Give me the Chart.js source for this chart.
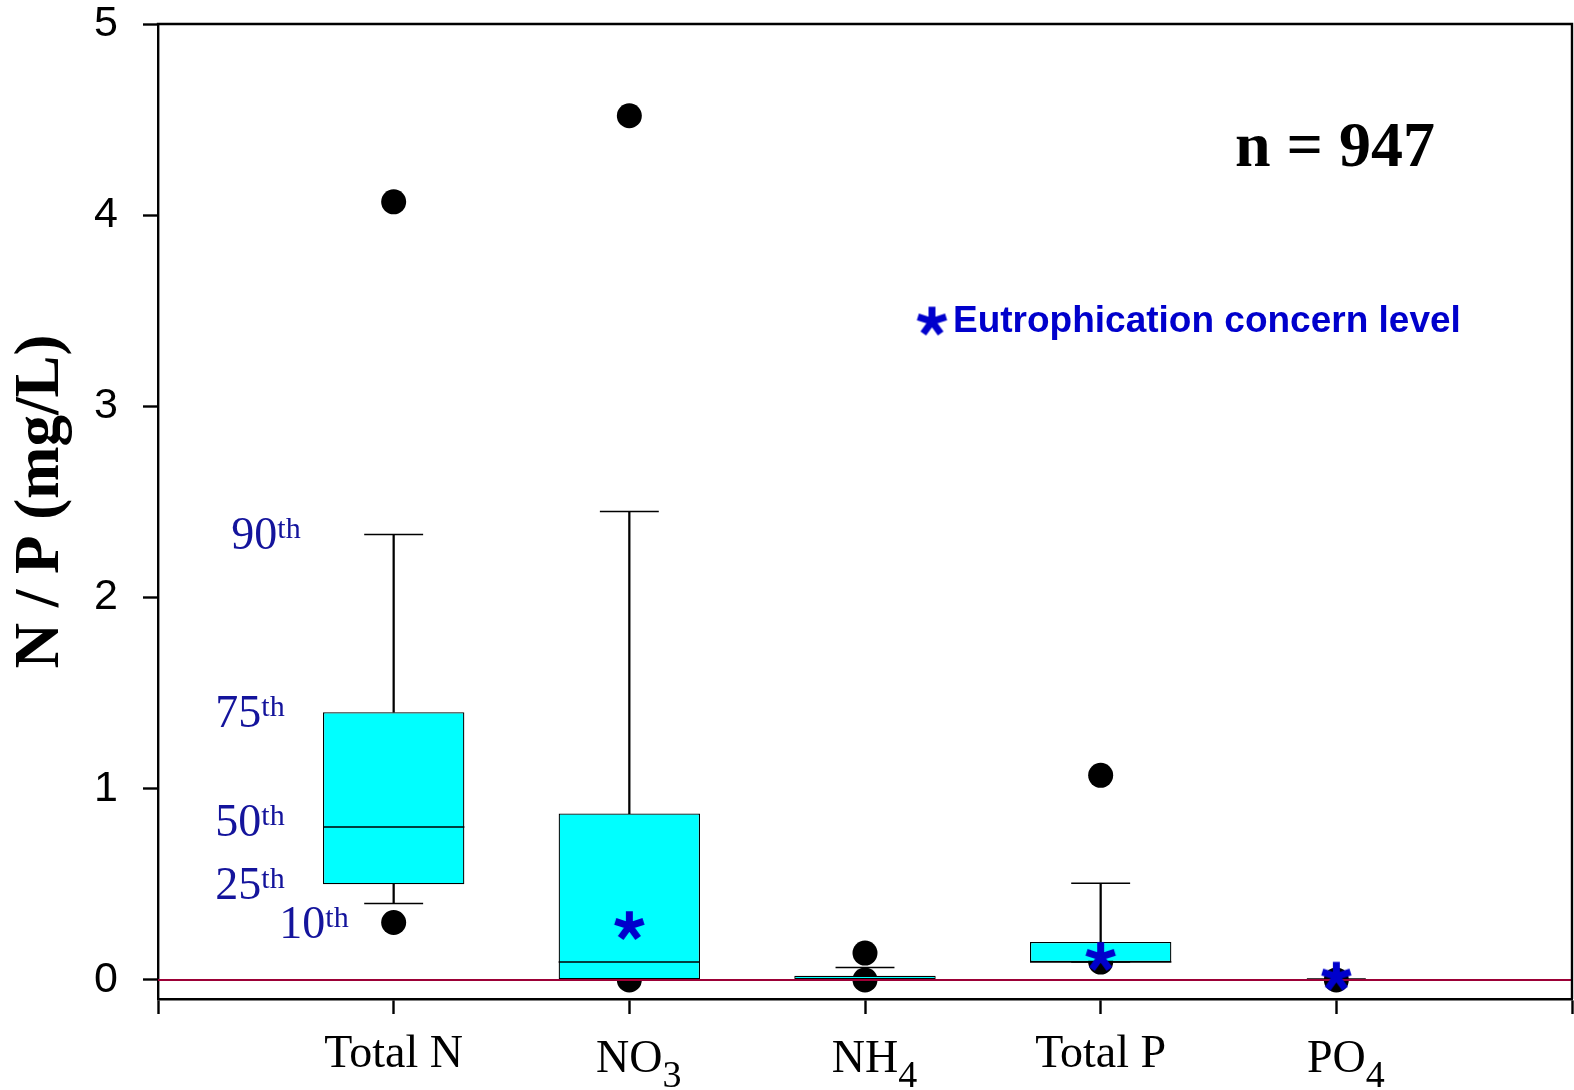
<!DOCTYPE html>
<html>
<head>
<meta charset="utf-8">
<title>N / P box plot</title>
<script src="https://cdn.jsdelivr.net/npm/chart.js@4.4.0/dist/chart.umd.min.js"></script>
<style>
  html, body { margin: 0; padding: 0; background: #fff; }
  #wrap { width: 1574px; height: 1090px; }
</style>
</head>
<body>
<div id="wrap"><canvas id="boxChart" width="1574" height="1090"></canvas></div>
<script>
// categories along the bottom axis (trailing digit is drawn as subscript)
const categories = ['Total N', 'NO3', 'NH4', 'Total P', 'PO4'];
const yTicks = [0, 1, 2, 3, 4, 5];

// percentiles (mg/L)
const p10 = [0.40, 0.00, 0.00, 0.093, 0.00];
const p25 = [0.50, 0.00, 0.00, 0.093, 0.00];
const p50 = [0.80, 0.093, 0.00, 0.093, 0.00];
const p75 = [1.40, 0.87, 0.022, 0.198, 0.003];
const p90 = [2.33, 2.45, 0.065, 0.505, 0.005];

// outliers
const outHigh = [4.07, 4.52, 0.14, 1.07, null];
const outLow = [0.30, 0.00, 0.00, 0.093, 0.00];

// eutrophication concern level
const eutro = [null, 0.29, null, 0.128, 0.025];

const sampleSize = 947;
const pctNames = ['90', '75', '50', '25', '10'];

const SERIF = "'Liberation Serif', 'Times New Roman', serif";
const SANS = "'Liberation Sans', Arial, sans-serif";
const BLUE = '#0000cc';
const NAVY = '#14149c';

// pad so categories sit on indices 1..5 of a 0..6 axis
const pad = arr => [null, ...arr, null];
const band = (arr, h) => pad(arr.map(v => v == null ? null : [v - h, v + h]));

function makeAsterisk(size, color) {
  const c = document.createElement('canvas');
  c.width = c.height = size;
  const g = c.getContext('2d');
  const r = size * 0.45;
  const cx = size / 2, cy = size / 2 + r * 0.1;
  g.strokeStyle = color;
  g.lineWidth = size * 0.21;
  g.beginPath();
  for (let k = 0; k < 5; k++) {
    const a = -Math.PI / 2 + k * 2 * Math.PI / 5;
    g.moveTo(cx, cy);
    g.lineTo(cx + r * Math.cos(a), cy + r * Math.sin(a));
  }
  g.stroke();
  return c;
}
const asterisk = makeAsterisk(33, BLUE);

const annotations = {
  id: 'annotations',
  afterDraw(chart) {
    const { ctx, chartArea: area, scales: { x, y } } = chart;
    ctx.save();

    // top and right frame
    ctx.strokeStyle = '#000';
    ctx.lineWidth = 2.4;
    ctx.beginPath();
    ctx.moveTo(area.left - 1.2, area.top);
    ctx.lineTo(area.right, area.top);
    ctx.lineTo(area.right, area.bottom);
    ctx.stroke();

    // category labels with subscripts
    ctx.fillStyle = '#000';
    ctx.textBaseline = 'alphabetic';
    categories.forEach((name, i) => {
      const m = name.match(/^(.*?)(\d+)$/);
      const cx = x.getPixelForValue(i + 1);
      ctx.font = '46px ' + SERIF;
      if (!m) {
        ctx.textAlign = 'center';
        ctx.fillText(name, cx, area.bottom + 68);
        return;
      }
      const mainW = ctx.measureText(m[1]).width;
      ctx.textAlign = 'left';
      ctx.fillText(m[1], cx - mainW / 2, area.bottom + 73);
      ctx.font = '38px ' + SERIF;
      ctx.fillText(m[2], cx + mainW / 2, area.bottom + 88);
    });

    // y axis title
    ctx.save();
    ctx.translate(42, (area.top + area.bottom) / 2 - 10);
    ctx.rotate(-Math.PI / 2);
    ctx.font = 'bold 63px ' + SERIF;
    ctx.textAlign = 'center';
    ctx.textBaseline = 'middle';
    ctx.fillText('N / P (mg/L)', 0, 0);
    ctx.restore();

    // percentile labels next to the first box
    const c0 = x.getPixelForValue(1);
    const pctVals = [p90[0], p75[0], p50[0], p25[0], outLow[0]];
    const pctRight = [c0 - 93, c0 - 109, c0 - 109, c0 - 109, c0 - 45];
    const pctNudge = [0, 0, -6, 0, 0];
    ctx.fillStyle = NAVY;
    ctx.textAlign = 'left';
    pctNames.forEach((t, i) => {
      const cy = y.getPixelForValue(pctVals[i]) + pctNudge[i];
      ctx.font = '46px ' + SERIF;
      const wd = ctx.measureText(t).width;
      ctx.font = '30px ' + SERIF;
      const ws = ctx.measureText('th').width;
      const x0 = pctRight[i] - wd - ws;
      ctx.font = '46px ' + SERIF;
      ctx.fillText(t, x0, cy + 15);
      ctx.font = '30px ' + SERIF;
      ctx.fillText('th', x0 + wd, cy + 4);
    });

    // sample size
    ctx.fillStyle = '#000';
    ctx.font = 'bold 64px ' + SERIF;
    ctx.textAlign = 'center';
    ctx.fillText('n = ' + sampleSize, 1335, 166);

    // legend for the asterisk
    ctx.drawImage(asterisk, 932 - 16.5, 320 - 16.5);
    ctx.fillStyle = BLUE;
    ctx.font = 'bold 37px ' + SANS;
    ctx.textAlign = 'left';
    ctx.fillText('Eutrophication concern level', 953, 332);

    ctx.restore();
  }
};

const barCommon = { type: 'bar', grouped: false, categoryPercentage: 1, borderSkipped: false };

new Chart(document.getElementById('boxChart'), {
  type: 'bar',
  data: {
    labels: ['', ...categories, ''],
    datasets: [
      { ...barCommon, label: 'box', data: pad(categories.map((c, i) => [p25[i], p75[i]])),
        backgroundColor: '#00ffff', borderColor: '#000', borderWidth: 1.3, barPercentage: 0.6, order: 5 },
      { ...barCommon, label: 'median', data: band(p50, 0.004),
        backgroundColor: '#000', borderWidth: 0, barPercentage: 0.6, order: 4 },
      { ...barCommon, label: 'upper whisker', data: pad(categories.map((c, i) => [p75[i], p90[i]])),
        backgroundColor: '#000', borderWidth: 0, barThickness: 1.6, order: 3 },
      { ...barCommon, label: 'lower whisker', data: pad(categories.map((c, i) => [p10[i], p25[i]])),
        backgroundColor: '#000', borderWidth: 0, barThickness: 1.6, order: 3 },
      { ...barCommon, label: '90th cap', data: band(p90, 0.004),
        backgroundColor: '#000', borderWidth: 0, barPercentage: 0.25, order: 2 },
      { ...barCommon, label: '10th cap', data: band(p10, 0.004),
        backgroundColor: '#000', borderWidth: 0, barPercentage: 0.25, order: 2 },
      { type: 'line', label: 'outliers high', data: pad(outHigh), showLine: false,
        pointRadius: 12.5, pointBorderWidth: 0, pointBackgroundColor: '#000', order: 6 },
      { type: 'line', label: 'outliers low', data: pad(outLow), showLine: false,
        pointRadius: 12.5, pointBorderWidth: 0, pointBackgroundColor: '#000', order: 6 },
      { type: 'line', label: 'zero', data: ['', ...categories, ''].map(() => 0),
        borderColor: '#9c0036', borderWidth: 2, pointRadius: 0, order: 1 },
      { type: 'line', label: 'Eutrophication concern level', data: pad(eutro), showLine: false,
        pointStyle: asterisk, pointRadius: 16, order: 0 }
    ]
  },
  options: {
    responsive: false,
    animation: false,
    events: [],
    layout: { autoPadding: false, padding: { top: 24, right: 2, left: 0, bottom: 0 } },
    plugins: { legend: { display: false }, tooltip: { enabled: false } },
    scales: {
      x: {
        type: 'category',
        offset: false,
        grid: { offset: false, drawOnChartArea: false, tickLength: 15, tickWidth: 2.4, tickColor: '#000' },
        border: { color: '#000', width: 2.4 },
        ticks: { display: false, autoSkip: false },
        afterFit: s => { s.height = 91; }
      },
      y: {
        type: 'linear',
        min: -0.1,
        max: yTicks[yTicks.length - 1],
        afterBuildTicks: s => { s.ticks = yTicks.map(v => ({ value: v })); },
        grid: { drawOnChartArea: false, tickLength: 15, tickWidth: 2.4, tickColor: '#000' },
        border: { color: '#000', width: 2.4 },
        ticks: { color: '#000', padding: 25, font: { family: SANS, size: 43, lineHeight: 1 } },
        afterFit: s => { s.width = 158; s.paddingTop = 0; s.paddingBottom = 0; }
      }
    }
  },
  plugins: [annotations]
});
</script>
</body>
</html>
